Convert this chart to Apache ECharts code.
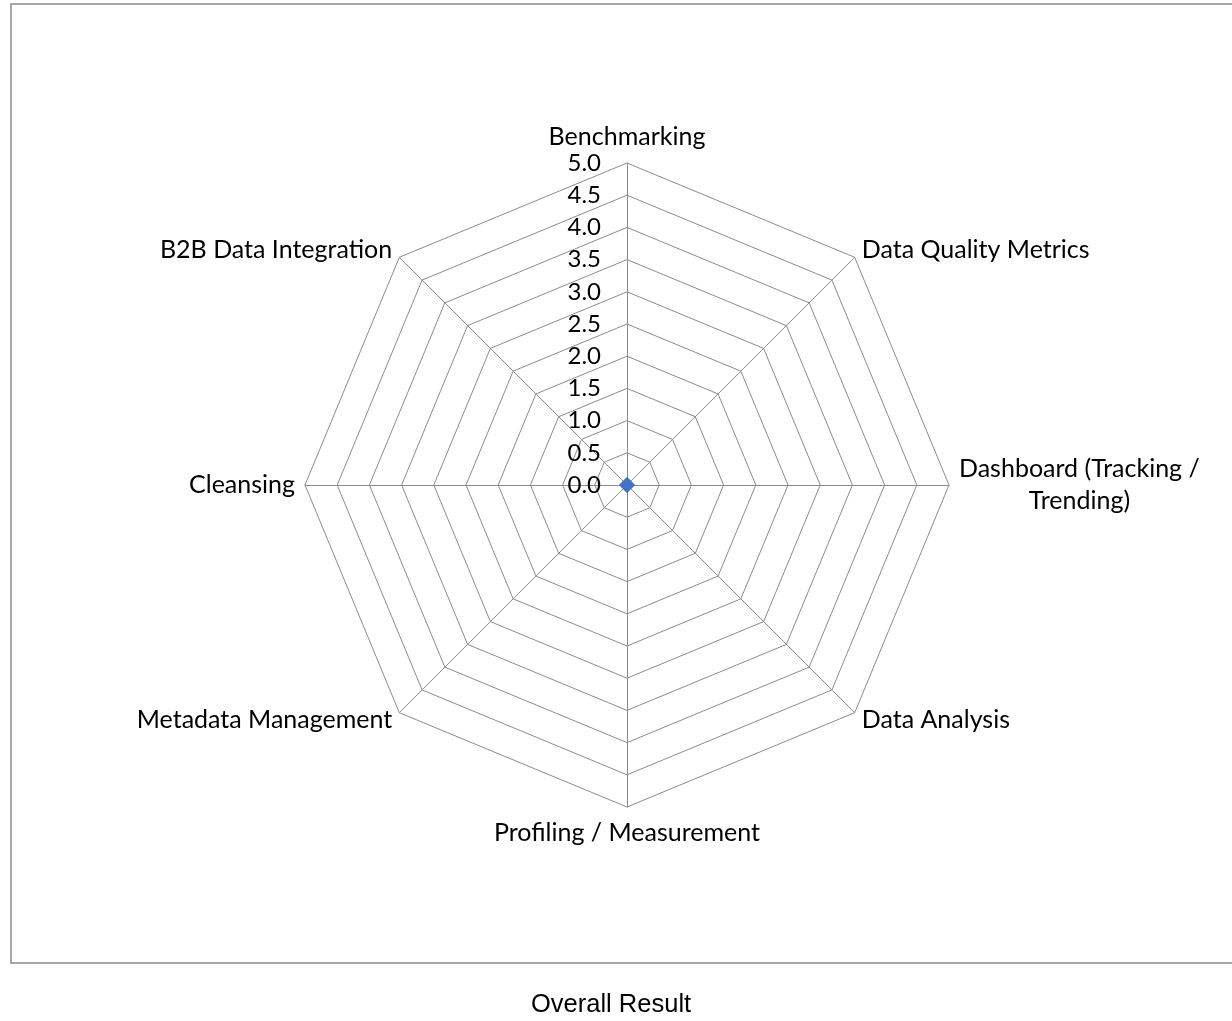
<!DOCTYPE html>
<html>
<head>
<meta charset="utf-8">
<script src="https://cdn.jsdelivr.net/npm/echarts@6/dist/echarts.min.js"></script>
<style>
html,body{margin:0;padding:0;background:#fff;}
#chart{width:1232px;height:1021px;}
</style>
</head>
<body>
<div id="chart"></div>
<script>
// Categories in clockwise order starting from the top
var categories = [
  'Benchmarking',
  'Data Quality Metrics',
  'Dashboard (Tracking / Trending)',
  'Data Analysis',
  'Profiling / Measurement',
  'Metadata Management',
  'Cleansing',
  'B2B Data Integration'
];
var overallValues = [0, 0, 0, 0, 0, 0, 0, 0];
var axisMax = 5;
var axisStep = 0.5;
var titleText = 'Overall Result';

// ECharts radar runs counter-clockwise; reorder so the picture runs clockwise
function clockwise(arr) { return [arr[0]].concat(arr.slice(1).reverse()); }

var indicators = clockwise(categories).map(function (name, i) {
  var ind = { name: name, min: 0, max: axisMax };
  if (i === 0) {
    ind.axisLabel = {
      show: true,
      margin: 26,
      formatter: function (v) { return v.toFixed(1); }
    };
  }
  return ind;
});

function wrapName(name) {
  if (name.length <= 24) return '{c|' + name + '}';
  var cut = name.lastIndexOf(' ', 22);
  return '{c|' + name.slice(0, cut) + '}\n{c|' + name.slice(cut + 1) + '}';
}

var chart = echarts.init(document.getElementById('chart'), null, { renderer: 'canvas' });
chart.setOption({
  animation: false,
  backgroundColor: '#ffffff',
  title: {
    text: titleText,
    left: 526,
    top: 987,
    textStyle: {
      fontFamily: 'Liberation Sans, Arial, sans-serif',
      fontSize: 25.5,
      fontWeight: 'normal',
      color: '#000000'
    }
  },
  graphic: [{
    type: 'rect',
    silent: true,
    z: -1,
    shape: { x: 11, y: 4, width: 1240, height: 959 },
    style: { fill: 'none', stroke: '#8c8c8c', lineWidth: 1.5 }
  }],
  radar: {
    center: [627, 485],
    radius: 322,
    startAngle: 90,
    splitNumber: axisMax / axisStep,
    shape: 'polygon',
    nameGap: 10,
    axisName: {
      color: '#000000',
      fontFamily: 'Lato, Calibri, sans-serif',
      fontSize: 25,
      formatter: function (name) { return wrapName(name); },
      rich: {
        c: {
          align: 'center',
          color: '#000000',
          fontFamily: 'Lato, Calibri, sans-serif',
          fontSize: 25,
          lineHeight: 32
        }
      }
    },
    axisLine: { show: true, lineStyle: { color: '#8c8c8c', width: 1 } },
    splitLine: { show: true, lineStyle: { color: '#8c8c8c', width: 1 } },
    splitArea: { show: false },
    axisTick: { show: false },
    axisLabel: {
      show: false,
      color: '#000000',
      fontFamily: 'Lato, Calibri, sans-serif',
      fontSize: 24
    },
    indicator: indicators
  },
  series: [{
    type: 'radar',
    name: titleText,
    symbol: 'diamond',
    symbolSize: 15,
    itemStyle: { color: '#4472C4' },
    lineStyle: { color: '#4472C4', width: 2.5 },
    data: [{ name: titleText, value: clockwise(overallValues) }]
  }]
});
</script>
</body>
</html>
